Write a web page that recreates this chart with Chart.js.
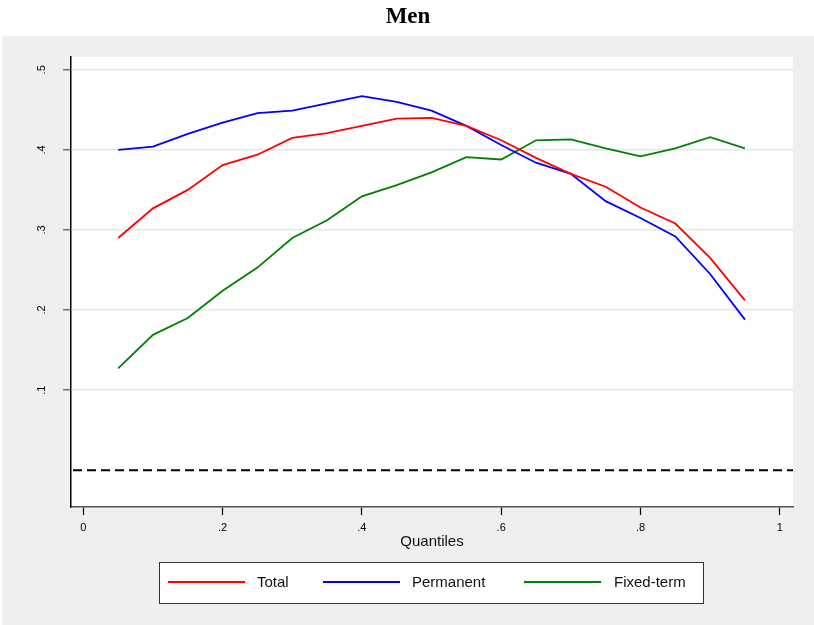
<!DOCTYPE html>
<html>
<head>
<meta charset="utf-8">
<script src="https://cdn.jsdelivr.net/npm/chart.js@4.4.1/dist/chart.umd.min.js"></script>
<style>
  html, body { margin: 0; padding: 0; background: #ffffff; }
  #wrap { position: relative; width: 814px; height: 625px; }
</style>
</head>
<body>
<div id="wrap"><canvas id="c" width="814" height="625"></canvas></div>
<script>
// ---- data ----
const chartTitle = 'Men';
const xAxisTitle = 'Quantiles';
const quantiles = [0.05, 0.10, 0.15, 0.20, 0.25, 0.30, 0.35, 0.40, 0.45, 0.50, 0.55, 0.60, 0.65, 0.70, 0.75, 0.80, 0.85, 0.90, 0.95];
const total     = [0.290, 0.327, 0.350, 0.381, 0.394, 0.415, 0.421, 0.430, 0.439, 0.440, 0.430, 0.412, 0.390, 0.370, 0.354, 0.328, 0.308, 0.265, 0.212];
const permanent = [0.400, 0.404, 0.420, 0.434, 0.446, 0.449, 0.458, 0.467, 0.460, 0.449, 0.430, 0.406, 0.384, 0.370, 0.336, 0.315, 0.292, 0.245, 0.188];
const fixedTerm = [0.127, 0.169, 0.190, 0.224, 0.253, 0.290, 0.312, 0.342, 0.356, 0.372, 0.391, 0.388, 0.412, 0.413, 0.402, 0.392, 0.402, 0.416, 0.402];
const seriesNames = ['Total', 'Permanent', 'Fixed-term'];
const xTickValues = [0, 0.2, 0.4, 0.6, 0.8, 1];
const xTickLabels = ['0', '.2', '.4', '.6', '.8', '1'];
const yTickValues = [0.1, 0.2, 0.3, 0.4, 0.5];
const yTickLabels = ['.1', '.2', '.3', '.4', '.5'];
const refLineValue = 0;

const toPoints = arr => arr.map((v, i) => ({ x: quantiles[i], y: v }));

const SANS = '"Liberation Sans", Arial, sans-serif';

const decor = {
  id: 'decor',
  beforeDraw(chart) {
    const { ctx, chartArea: a } = chart;
    ctx.save();
    ctx.fillStyle = '#ffffff';
    ctx.fillRect(0, 0, chart.width, chart.height);
    ctx.fillStyle = '#efefef';
    ctx.fillRect(2, 36, chart.width - 2, chart.height - 36);
    ctx.fillStyle = '#ffffff';
    ctx.fillRect(a.left, a.top, a.right - a.left, a.bottom - a.top);
    // title
    ctx.fillStyle = '#000';
    ctx.font = 'bold 23px "Liberation Serif", "Times New Roman", serif';
    ctx.textAlign = 'center';
    ctx.textBaseline = 'middle';
    ctx.fillText(chartTitle, chart.width / 2 + 1, 17);
    ctx.restore();
  },
  beforeDatasetsDraw(chart) {
    const { ctx, chartArea: a, scales } = chart;
    const y = scales.y.getPixelForValue(refLineValue);
    ctx.save();
    ctx.strokeStyle = '#000';
    ctx.lineWidth = 2;
    ctx.setLineDash([9, 5]);
    ctx.beginPath();
    ctx.moveTo(a.left + 2, y);
    ctx.lineTo(a.right, y);
    ctx.stroke();
    ctx.restore();
  },
  afterDraw(chart) {
    const { ctx } = chart;
    const box = { left: 159, top: 562, right: 703, bottom: 603 };
    ctx.save();
    ctx.fillStyle = '#ffffff';
    ctx.fillRect(box.left, box.top, box.right - box.left, box.bottom - box.top);
    ctx.strokeStyle = '#333';
    ctx.lineWidth = 1;
    ctx.strokeRect(box.left + 0.5, box.top + 0.5, box.right - box.left, box.bottom - box.top);
    const lineStarts = [168, 323, 524];
    const textStarts = [257, 412, 614];
    const cy = 582;
    ctx.font = '15px ' + SANS;
    ctx.textBaseline = 'middle';
    ctx.textAlign = 'left';
    chart.data.datasets.forEach((ds, i) => {
      ctx.strokeStyle = ds.borderColor;
      ctx.lineWidth = 2;
      ctx.beginPath();
      ctx.moveTo(lineStarts[i], cy);
      ctx.lineTo(lineStarts[i] + 77, cy);
      ctx.stroke();
      ctx.fillStyle = '#111';
      ctx.fillText(ds.label, textStarts[i], cy + 1);
    });
    ctx.restore();
  }
};

new Chart(document.getElementById('c'), {
  type: 'line',
  data: {
    datasets: [
      { label: seriesNames[0], data: toPoints(total), borderColor: '#ff0000', borderWidth: 1.8, pointRadius: 0, tension: 0, fill: false },
      { label: seriesNames[1], data: toPoints(permanent), borderColor: '#0000ff', borderWidth: 1.8, pointRadius: 0, tension: 0, fill: false },
      { label: seriesNames[2], data: toPoints(fixedTerm), borderColor: '#008000', borderWidth: 1.8, pointRadius: 0, tension: 0, fill: false }
    ]
  },
  options: {
    responsive: false,
    animation: false,
    layout: { padding: { top: 57, right: 21, bottom: 0, left: 0 } },
    plugins: {
      legend: { display: false },
      title: { display: false },
      tooltip: { enabled: false }
    },
    scales: {
      x: {
        type: 'linear',
        min: -0.0177,
        max: 1.019,
        afterBuildTicks: s => { s.ticks = xTickValues.map(v => ({ value: v })); },
        afterFit: s => { s.height = 118; },
        ticks: {
          callback: (v) => { const i = xTickValues.findIndex(t => Math.abs(t - v) < 1e-9); return i >= 0 ? xTickLabels[i] : ''; },
          font: { size: 11, family: SANS },
          color: '#000',
          padding: 6,
          maxRotation: 0,
          autoSkip: false
        },
        grid: { drawOnChartArea: false, drawTicks: true, tickLength: 8, tickColor: '#000', tickWidth: 1.2 },
        border: { display: true, color: '#555', width: 1.5 },
        title: { display: true, text: xAxisTitle, color: '#111', font: { size: 15, family: SANS }, padding: { top: 0, bottom: 74 } }
      },
      y: {
        type: 'linear',
        min: -0.046,
        max: 0.516,
        afterBuildTicks: s => { s.ticks = yTickValues.map(v => ({ value: v })); },
        afterFit: s => { s.width = 71; },
        ticks: {
          callback: (v) => { const i = yTickValues.findIndex(t => Math.abs(t - v) < 1e-9); return i >= 0 ? yTickLabels[i] : ''; },
          font: { size: 11, family: SANS },
          color: '#000',
          minRotation: 90,
          maxRotation: 90,
          crossAlign: 'center',
          padding: 16,
          autoSkip: false
        },
        grid: { color: '#e6e6e6', lineWidth: 1.5, drawTicks: true, tickLength: 8, tickColor: '#555', tickWidth: 1.2 },
        border: { display: true, color: '#000', width: 1.5 }
      }
    }
  },
  plugins: [decor]
});
</script>
</body>
</html>
